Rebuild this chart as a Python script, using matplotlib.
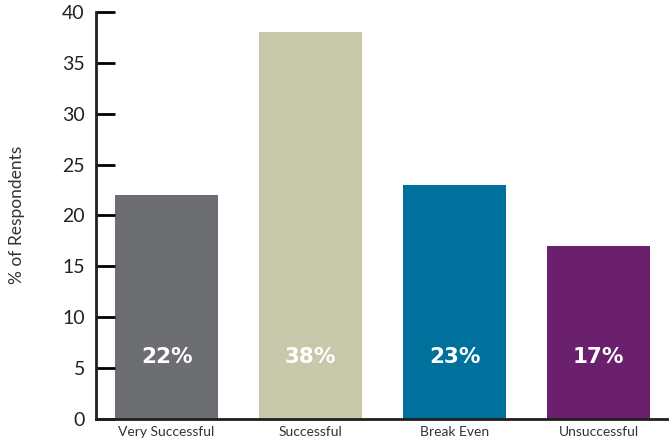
import matplotlib
matplotlib.use("Agg")
import matplotlib.pyplot as plt

# survey results
categorias = ["Very Successful", "Successful", "Break Even", "Unsuccessful"]
valores = [22, 38, 23, 17]
colores = ["#6d6e71", "#c8c8aa", "#00709d", "#6b206e"]
ticks_y = [0, 5, 10, 15, 20, 25, 30, 35, 40]

plt.rcParams["font.family"] = ["Lato", "DejaVu Sans"]

fig = plt.figure(figsize=(6.69, 4.44), dpi=100)
ax = fig.add_axes([96 / 669, 25 / 444, 1 - 96 / 669, 407 / 444])

x = range(len(categorias))
ax.bar(x, valores, width=0.72, color=colores)

for i, v in enumerate(valores):
    ax.text(i, 6.1, f"{v}%", ha="center", va="center", color="white",
            fontsize=15.5, fontweight="bold", family="DejaVu Sans")

ax.set_xlim(-0.49, 3.49)
ax.set_ylim(0, 40)
ax.set_yticks(ticks_y)
ax.set_xticks(list(x))
ax.set_xticklabels(categorias, fontsize=10, color="#333333")
ax.tick_params(axis="x", length=0, pad=5)
ax.tick_params(axis="y", direction="in", length=14, width=2, labelsize=14,
               labelcolor="#222222", pad=8)

for s in ["top", "right"]:
    ax.spines[s].set_visible(False)
ax.spines["left"].set_linewidth(2)
ax.spines["bottom"].set_linewidth(2)
ax.spines["left"].set_color("#231f20")
ax.spines["bottom"].set_color("#231f20")

fig.text(17 / 669, 1 - 215 / 444, "% of Respondents", rotation=90,
         ha="center", va="center", fontsize=12.5, color="#333333")

fig.savefig("out.png", dpi=100)
